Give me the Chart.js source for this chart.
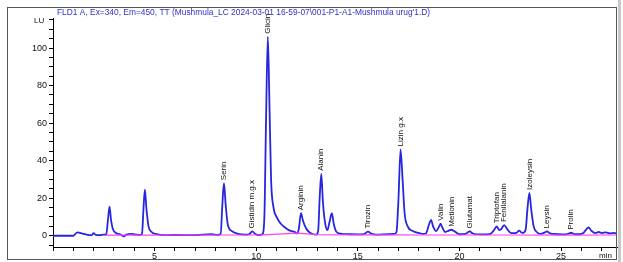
<!DOCTYPE html>
<html>
<head>
<meta charset="utf-8">
<script src="https://cdn.jsdelivr.net/npm/chart.js@4.4.1/dist/chart.umd.min.js"></script>
<style>
    html, body { margin: 0; padding: 0; background: #fff; }
</style>
</head>
<body>
<canvas id="chart" width="623" height="262"></canvas>
<script>
// Chromatogram trace (minutes, LU)
const traceTimes = [0, 1.0, 1.2, 1.4, 1.7, 1.9, 2.0, 2.1, 2.3, 2.5,
    2.62, 2.7, 2.78, 2.86, 2.95, 3.1, 3.3, 3.5, 3.6, 3.9, 4.1, 4.3,
    4.38, 4.45, 4.52, 4.6, 4.7, 4.85, 5.1, 5.5, 6.0, 7.0, 7.8, 8.1,
    8.25, 8.33, 8.41, 8.5, 8.6, 8.8, 9.1, 9.5,
    9.65, 9.8, 9.95, 10.1,
    10.3, 10.4, 10.48, 10.57, 10.65, 10.73, 10.85, 11.0, 11.2, 11.4, 11.6, 11.9, 12.0,
    12.1, 12.2, 12.3, 12.45, 12.6, 12.8, 12.95,
    13.05, 13.12, 13.2, 13.28, 13.4, 13.5, 13.6, 13.72, 13.82, 13.95, 14.2, 14.6, 15.0, 15.3, 15.5, 15.65, 15.9, 16.5, 16.8,
    16.9, 17.0, 17.1, 17.2, 17.3, 17.45, 17.7, 18.0, 18.2,
    18.35, 18.5, 18.6, 18.7, 18.85, 19.0, 19.07, 19.15, 19.3, 19.45, 19.6, 19.75, 20.0, 20.3, 20.5, 20.65, 21.0, 21.5,
    21.7, 21.83, 21.95, 22.05, 22.2, 22.35, 22.55, 22.8, 22.93, 23.1,
    23.25, 23.35, 23.44, 23.53, 23.65, 23.8, 24.0, 24.2, 24.3, 24.45, 24.8, 25.2, 25.4, 25.5, 25.65, 25.9,
    26.1, 26.35, 26.5, 26.7, 26.85, 27.0, 27.2, 27.4, 27.6, 27.75];
const traceLU = [0, 0, 1.8, 1.3, 0.5, 0.3, 1.4, 0.5, 0.3, 0.6,
    0.6, 8, 15.5, 8, 3.5, 1.5, 0.8, -0.3, 0.6, 1.0, 0.6, 0.5,
    1, 14, 24.5, 14, 5, 2, 0.8, 0.3, 0.4, 0.3, 0.8, 0.5,
    1, 16, 28, 16, 6, 2.5, 1, 0.6,
    0.8, 2.3, 1, 0.3,
    0.8, 10, 60, 106, 70, 30, 15, 10, 6.5, 4.5, 3, 2, 1.2,
    4, 12, 8, 4, 2, 0.8, 0.6,
    3, 20, 33, 18, 6, 3, 7, 12, 6, 2, 1, 0.8, 0.7, 0.9, 2.2, 1.2, 0.6, 0.8, 1,
    2, 20, 46, 30, 12, 5, 2.5, 1.5, 1,
    1.2, 6, 8.5, 5, 2.5, 5, 6.4, 4.5, 2, 2.6, 3.2, 2.4, 0.8, 1, 2.3, 1.2, 0.7, 0.9,
    3, 5, 3, 3.5, 5.7, 3.5, 1.4, 1.5, 2.7, 1.5,
    3, 15, 22.8, 14, 5, 2, 1, 1.8, 2.3, 1.3, 0.9, 0.7, 1.3, 1.6, 0.9, 0.8,
    1.5, 4.4, 2.5, 1.4, 2, 1.4, 1.8, 1.3, 1.5, 1.2];

// Integration baseline (pink)
const baseTimes = [2.6, 4.3, 8.2, 10.3, 12.0, 13.0, 15.0, 16.9, 18.3, 22.5, 25.0, 27.75];
const baseLU = [0.3, 0.3, 0.4, 0.5, 1.4, 0.6, 0.5, 0.5, 0.4, 0.4, 0.3, 0.4];

// Peak annotations
const peakNames = ['Serin', 'Gistidin m.g.x', 'Glicin', 'Arginin', 'Alanin', 'Tirozin', 'Lizin g.x',
    'Valin', 'Metionin', 'Glutamat', 'Triptofan', 'Fenilalanin', 'Izoleysin', 'Leysin', 'Prolin'];
const peakTimes = [8.41, 9.8, 10.57, 12.2, 13.2, 15.5, 17.1, 19.07, 19.6, 20.5, 21.83, 22.2, 23.44, 24.3, 25.5];
const peakLU = [28, 2.3, 106, 12, 33, 2.2, 46, 6.4, 3.2, 2.3, 5, 5.7, 22.8, 2.3, 1.6];

const titleText = "FLD1 A, Ex=340, Em=450, TT (Mushmula_LC 2024-03-01 16-59-07\\001-P1-A1-Mushmula urug'1.D)";

const toPoints = (xs, ys) => xs.map((x, i) => ({ x: x, y: ys[i] }));

const decorPlugin = {
    id: 'decor',
    afterDraw(chart) {
        const ctx = chart.ctx;
        const xs = chart.scales.x;
        const ys = chart.scales.y;
        ctx.save();

        // outer frame
        ctx.strokeStyle = '#555';
        ctx.lineWidth = 1;
        ctx.strokeRect(7.5, 7.5, 609, 252);
        ctx.fillStyle = '#c8c8c8';
        ctx.fillRect(618, 0, 3, 262);

        // title
        ctx.fillStyle = '#3030d0';
        ctx.font = '8.4px "Liberation Sans", Arial, sans-serif';
        ctx.textBaseline = 'middle';
        ctx.textAlign = 'left';
        ctx.fillText(titleText, 57, 12.5);

        // unit labels
        ctx.fillStyle = '#111';
        ctx.font = '8px "Liberation Sans", Arial, sans-serif';
        ctx.fillText('LU', 34, 21);
        ctx.fillText('min', 599, 256);

        // peak names, rotated above each peak
        ctx.fillStyle = '#111';
        ctx.font = '8px "Liberation Sans", Arial, sans-serif';
        peakNames.forEach((name, i) => {
            const px = xs.getPixelForValue(peakTimes[i]);
            const py = ys.getPixelForValue(peakLU[i]) - 3;
            ctx.save();
            ctx.translate(px, py);
            ctx.rotate(-Math.PI / 2);
            ctx.fillText(name, 0, 0);
            ctx.restore();
        });
        ctx.restore();
    }
};

new Chart(document.getElementById('chart').getContext('2d'), {
    type: 'line',
    data: {
        datasets: [{
            data: toPoints(baseTimes, baseLU),
            borderColor: '#ff3cff',
            borderWidth: 1.2,
            pointRadius: 0,
            fill: false
        }, {
            data: toPoints(traceTimes, traceLU),
            borderColor: '#2626e0',
            borderWidth: 1.8,
            pointRadius: 0,
            cubicInterpolationMode: 'monotone',
            fill: false
        }]
    },
    options: {
        responsive: false,
        animation: false,
        layout: { padding: { top: 18, right: 6, left: 0, bottom: 0 } },
        plugins: {
            legend: { display: false },
            tooltip: { enabled: false }
        },
        scales: {
            x: {
                type: 'linear',
                min: 0,
                max: 27.75,
                afterFit: scale => { scale.height = 15; },
                border: { color: '#000', width: 1 },
                grid: { drawOnChartArea: false, drawTicks: true, tickLength: 4, color: '#000' },
                ticks: {
                    stepSize: 1,
                    includeBounds: false,
                    autoSkip: false,
                    maxRotation: 0,
                    padding: 0,
                    color: '#111',
                    font: { family: '"Liberation Sans", Arial, sans-serif', size: 9 },
                    callback: v => (v > 0 && v % 5 === 0) ? v : ''
                }
            },
            y: {
                min: -6,
                max: 116,
                afterFit: scale => { scale.width = 53; },
                border: { color: '#000', width: 1 },
                grid: { drawOnChartArea: false, drawTicks: true, tickLength: 4, color: '#000' },
                ticks: {
                    stepSize: 5,
                    includeBounds: false,
                    autoSkip: false,
                    padding: 2,
                    color: '#111',
                    font: { family: '"Liberation Sans", Arial, sans-serif', size: 9 },
                    callback: v => (v >= 0 && v % 20 === 0) ? v : ''
                }
            }
        }
    },
    plugins: [decorPlugin]
});
</script>
</body>
</html>
